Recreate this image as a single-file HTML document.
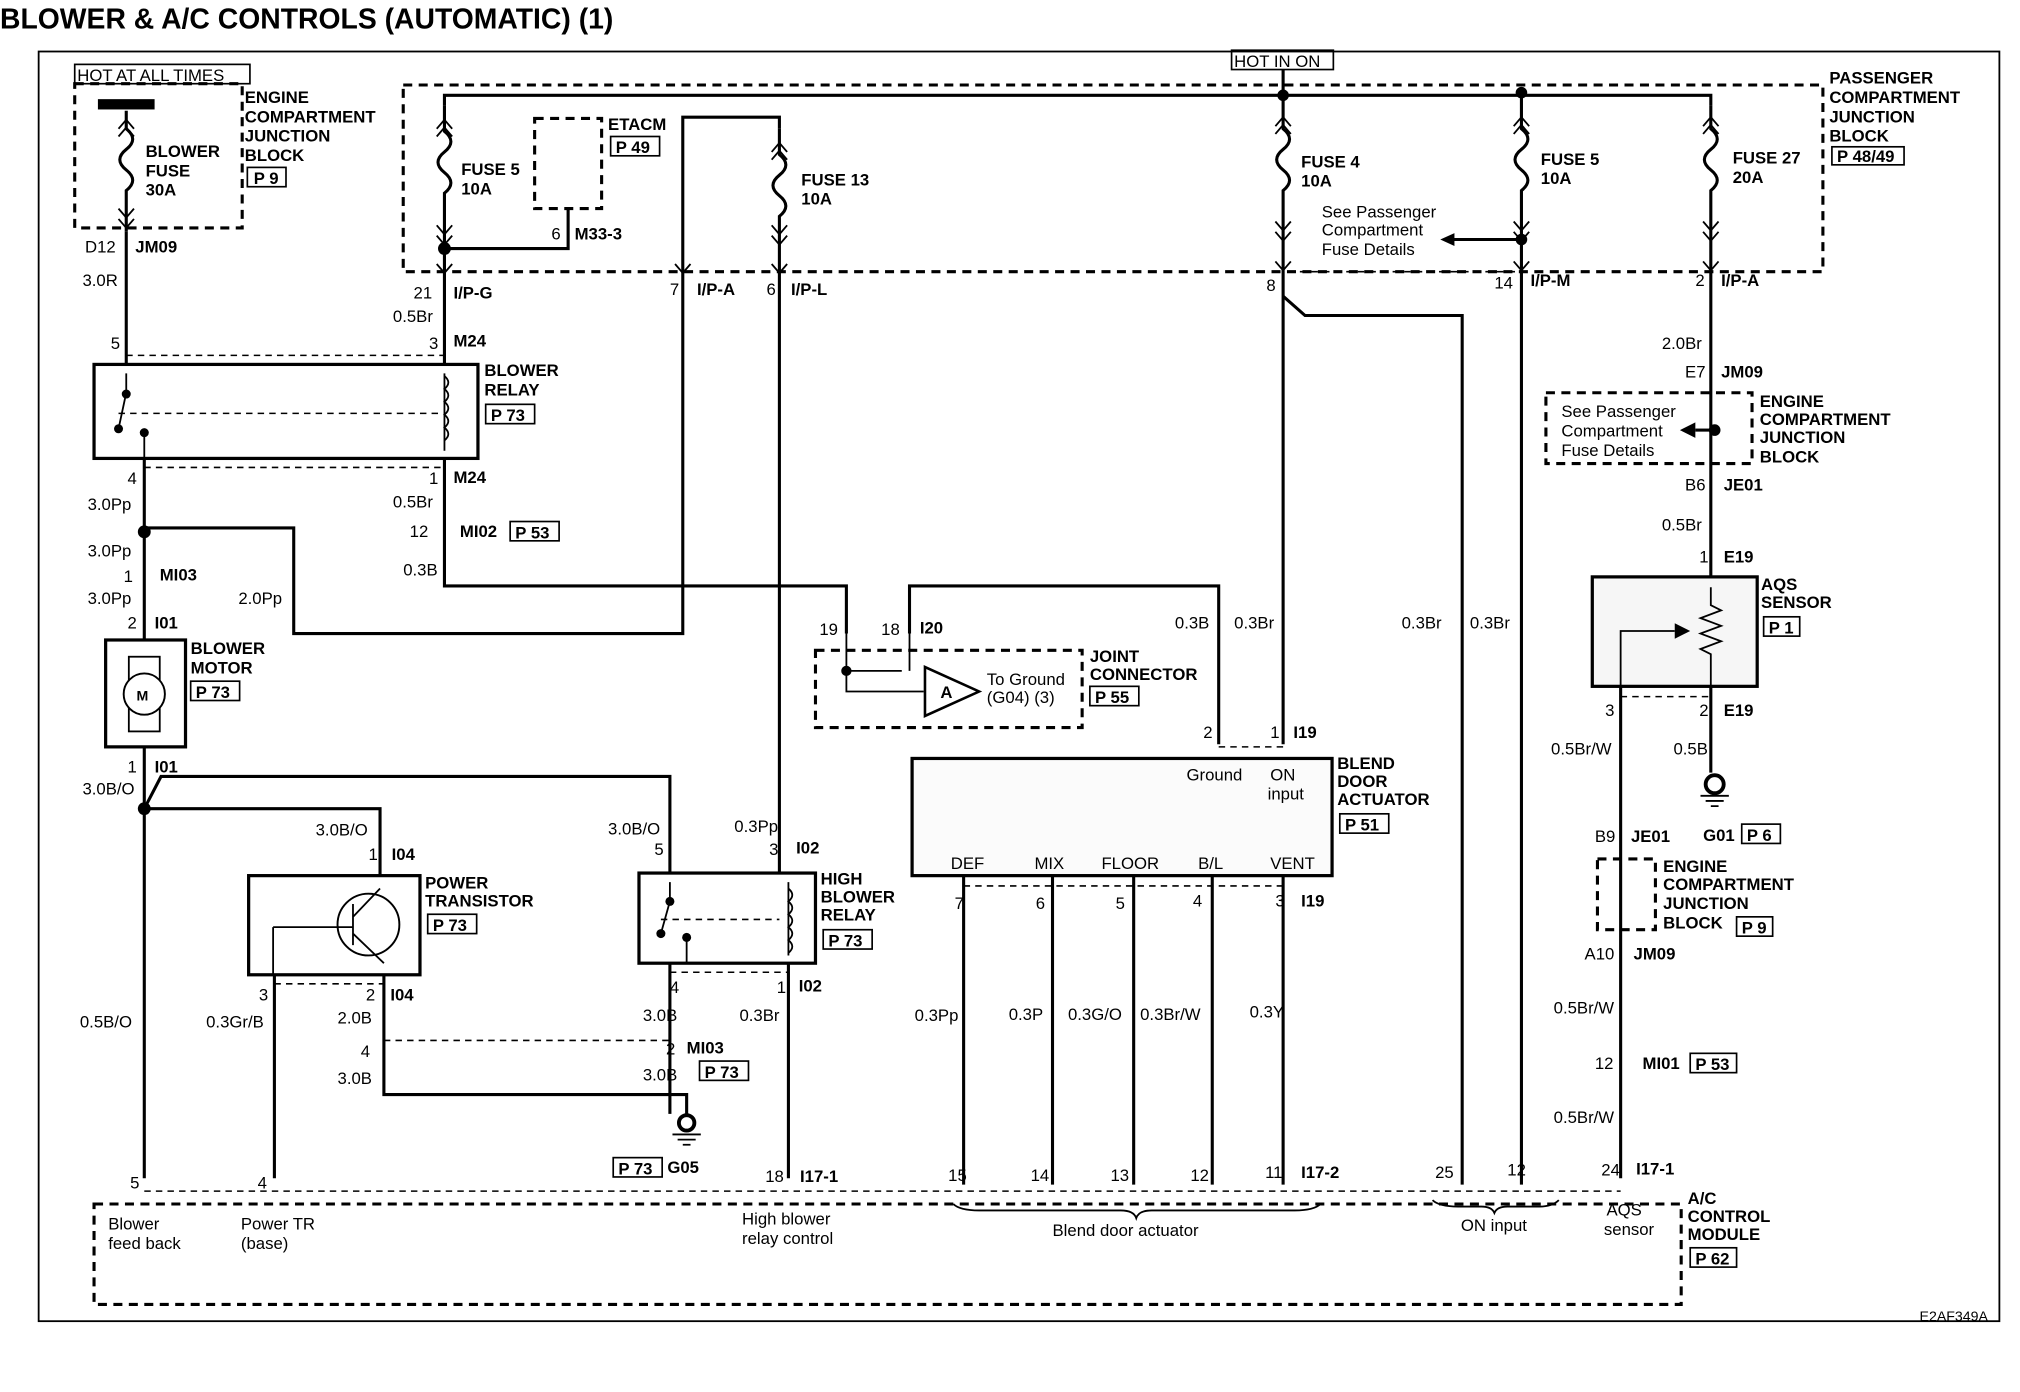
<!DOCTYPE html>
<html><head><meta charset="utf-8"><style>
html,body{margin:0;padding:0;background:#fff}
svg{display:block}
text{font-family:"Liberation Sans",Arial,sans-serif;font-size:13px;fill:#000}
.b{font-weight:bold}
.w{fill:none;stroke:#000;stroke-width:2.4}
.t{fill:none;stroke:#000;stroke-width:1.4}
.d{fill:none;stroke:#000;stroke-width:2.4;stroke-dasharray:7 5}
.dt{fill:none;stroke:#000;stroke-width:1.2;stroke-dasharray:5 4}
.bx{fill:none;stroke:#000;stroke-width:1.3}
</style></head><body>
<svg width="2020" height="1392" viewBox="0 0 1568 1081" preserveAspectRatio="none" xmlns="http://www.w3.org/2000/svg">
<text x="0" y="22" class="b" style="font-size:22px">BLOWER &amp; A/C CONTROLS (AUTOMATIC) (1)</text>
<rect x="30" y="40" width="1522" height="986" class="t"/>
<text x="1490" y="1026" style="font-size:11px">E2AF349A</text>

<rect x="58" y="50" width="136" height="15" class="bx"/><text x="60" y="63">HOT AT ALL TIMES</text>
<rect x="956" y="39" width="79" height="15" class="bx"/><text x="958" y="52">HOT IN ON</text>

<path d="M58 65 H188 V177 H58 Z" class="d"/>
<rect x="76" y="77" width="44" height="8" fill="#000"/>
<text x="190" y="80" class="b">ENGINE</text><text x="190" y="95" class="b">COMPARTMENT</text><text x="190" y="110" class="b">JUNCTION</text><text x="190" y="125" class="b">BLOCK</text>
<rect x="192" y="130" width="30" height="15" class="bx"/><text x="197" y="143" class="b">P 9</text>
<text x="113" y="122" class="b">BLOWER</text><text x="113" y="137" class="b">FUSE</text><text x="113" y="152" class="b">30A</text>

<path d="M313 66 H1415 V211 H313 Z" class="d"/>
<text x="1420" y="65" class="b">PASSENGER</text><text x="1420" y="80" class="b">COMPARTMENT</text><text x="1420" y="95" class="b">JUNCTION</text><text x="1420" y="110" class="b">BLOCK</text>
<rect x="1422" y="114" width="56" height="14" class="bx"/><text x="1426" y="126" class="b">P 48/49</text>

<path d="M345 82 V74 H1328 V82 M996 54 V74" class="w"/>
<circle cx="996" cy="74" r="4.5"/><circle cx="1181" cy="72" r="4.5"/>
<path d="M605 100 V91 H530 V492 H228 V410 H112" class="w"/>
<path d="M415 92 H467 V162 H415 Z" class="d"/>
<text x="472" y="101" class="b">ETACM</text><rect x="474" y="106" width="38" height="15" class="bx"/><text x="478" y="119" class="b">P 49</text>
<path d="M441 162 V193 H345" class="w"/><circle cx="345" cy="193" r="5"/>
<text x="428" y="186">6</text><text x="446" y="186" class="b">M33-3</text>

<g class="w">
<path d="M98 86 V100 q10 8 0 16 q-10 8 0 16 q10 8 0 16 V180"/>
<path d="M345 82 V102 q10 8 0 16 q-10 8 0 16 q10 8 0 16 V283"/>
<path d="M605 100 V120 q10 8 0 16 q-10 8 0 16 q10 8 0 16 V678"/>
<path d="M996 74 V100 q10 8 0 16 q-10 8 0 16 q10 8 0 16 V578"/>
<path d="M1181 72 V100 q10 8 0 16 q-10 8 0 16 q10 8 0 16 V920"/>
<path d="M1328 82 V100 q10 8 0 16 q-10 8 0 16 q10 8 0 16 V448"/>
</g>
<g class="t">
<path d="M92 100 l6 -7 l6 7 M92 106 l6 -7 l6 7 M92 162 l6 7 l6 -7 M92 170 l6 7 l6 -7"/>
<path d="M339 100 l6 -7 l6 7 M339 106 l6 -7 l6 7 M339 175 l6 7 l6 -7 M339 183 l6 7 l6 -7 M339 205 l6 7 l6 -7"/>
<path d="M599 118 l6 -7 l6 7 M599 124 l6 -7 l6 7 M599 175 l6 7 l6 -7 M599 183 l6 7 l6 -7 M599 205 l6 7 l6 -7 M524 205 l6 7 l6 -7"/>
<path d="M990 98 l6 -7 l6 7 M990 104 l6 -7 l6 7 M990 172 l6 7 l6 -7 M990 180 l6 7 l6 -7 M990 203 l6 7 l6 -7"/>
<path d="M1175 98 l6 -7 l6 7 M1175 104 l6 -7 l6 7 M1175 172 l6 7 l6 -7 M1175 180 l6 7 l6 -7 M1175 203 l6 7 l6 -7"/>
<path d="M1322 98 l6 -7 l6 7 M1322 104 l6 -7 l6 7 M1322 172 l6 7 l6 -7 M1322 180 l6 7 l6 -7 M1322 203 l6 7 l6 -7"/>
</g>
<text x="358" y="136" class="b">FUSE 5</text><text x="358" y="151" class="b">10A</text>
<text x="622" y="144" class="b">FUSE 13</text><text x="622" y="159" class="b">10A</text>
<text x="1010" y="130" class="b">FUSE 4</text><text x="1010" y="145" class="b">10A</text>
<text x="1196" y="128" class="b">FUSE 5</text><text x="1196" y="143" class="b">10A</text>
<text x="1345" y="127" class="b">FUSE 27</text><text x="1345" y="142" class="b">20A</text>
<text x="1026" y="169">See Passenger</text><text x="1026" y="183">Compartment</text><text x="1026" y="198">Fuse Details</text>
<path d="M1181 186 H1128" class="w"/><path d="M1118 186 l11 -5 v10 z"/><circle cx="1181" cy="186" r="4.5"/>

<text x="66" y="196">D12</text><text x="105" y="196" class="b">JM09</text><text x="64" y="222">3.0R</text>
<text x="321" y="232">21</text><text x="352" y="232" class="b">I/P-G</text><text x="305" y="250">0.5Br</text>
<text x="520" y="229">7</text><text x="541" y="229" class="b">I/P-A</text>
<text x="595" y="229">6</text><text x="614" y="229" class="b">I/P-L</text>
<text x="983" y="226">8</text><text x="1160" y="224">14</text><text x="1188" y="222" class="b">I/P-M</text>
<text x="1316" y="222">2</text><text x="1336" y="222" class="b">I/P-A</text>
<path d="M1000 211 H1181" class="dt"/>

<text x="86" y="271">5</text><text x="333" y="271">3</text><text x="352" y="269" class="b">M24</text>
<path d="M98 180 V283" class="w"/>
<path d="M98 276 H345" class="dt"/>
<rect x="73" y="283" width="298" height="73" fill="none" stroke="#000" stroke-width="2.5"/>
<path d="M98 290 V305 L92 333 M112 333 V356 M345 290 V350" class="t"/>
<path d="M345 292 q6 5 0 10 q6 5 0 10 q6 5 0 10 q6 5 0 10 q6 5 0 10" class="t"/>
<circle cx="98" cy="306" r="3.5"/><circle cx="92" cy="333" r="3.5"/><circle cx="112" cy="336" r="3.5"/>
<path d="M92 321 H340" class="dt"/>
<text x="376" y="292" class="b">BLOWER</text><text x="376" y="307" class="b">RELAY</text>
<rect x="377" y="314" width="38" height="15" class="bx"/><text x="381" y="327" class="b">P 73</text>
<path d="M112 363 H345" class="dt"/>
<text x="99" y="376">4</text><text x="333" y="376">1</text><text x="352" y="375" class="b">M24</text>
<text x="68" y="396">3.0Pp</text><text x="305" y="394">0.5Br</text>
<text x="318" y="417">12</text><text x="357" y="417" class="b">MI02</text>
<rect x="396" y="405" width="38" height="15" class="bx"/><text x="400" y="418" class="b">P 53</text>
<text x="313" y="447">0.3B</text>

<path d="M112 356 V497 M112 580 V915" class="w"/>
<circle cx="112" cy="413" r="5"/><circle cx="112" cy="628" r="5"/>
<text x="68" y="432">3.0Pp</text><text x="96" y="452">1</text><text x="124" y="451" class="b">MI03</text>
<text x="68" y="469">3.0Pp</text><text x="185" y="469">2.0Pp</text>
<text x="99" y="488">2</text><text x="120" y="488" class="b">I01</text>
<rect x="82" y="497" width="62" height="83" fill="none" stroke="#000" stroke-width="2.5"/>
<rect x="100" y="510" width="24" height="58" class="t"/><circle cx="112" cy="539" r="16" fill="#fff" stroke="#000" stroke-width="1.5"/>
<text x="106" y="544" class="b" style="font-size:11px">M</text>
<text x="148" y="508" class="b">BLOWER</text><text x="148" y="523" class="b">MOTOR</text>
<rect x="148" y="529" width="38" height="15" class="bx"/><text x="152" y="542" class="b">P 73</text>
<text x="99" y="600">1</text><text x="120" y="600" class="b">I01</text><text x="64" y="617">3.0B/O</text>
<path d="M112 628 L125 603 H520 V678 M112 628 H295 V680" class="w"/>

<path d="M345 356 V455 H657 V492" class="w"/>
<path d="M706 492 V455 H946 V578" class="w"/>
<text x="636" y="493">19</text><text x="684" y="493">18</text><text x="714" y="492" class="b">I20</text>
<text x="912" y="488">0.3B</text><text x="958" y="488">0.3Br</text>

<path d="M633 505 H840 V565 H633 Z" class="d"/>
<path d="M657 492 V521 H700 M706 492 V521 M657 521 V537 H717" class="t"/>
<circle cx="657" cy="521" r="4"/>
<path d="M718 518 V556 L760 537 Z" fill="#fff" stroke="#000" stroke-width="2"/><text x="730" y="542" class="b">A</text>
<text x="766" y="532">To Ground</text><text x="766" y="546">(G04) (3)</text>
<text x="846" y="514" class="b">JOINT</text><text x="846" y="528" class="b">CONNECTOR</text>
<rect x="846" y="533" width="38" height="15" class="bx"/><text x="850" y="546" class="b">P 55</text>

<text x="245" y="649">3.0B/O</text><text x="286" y="668">1</text><text x="304" y="668" class="b">I04</text>
<rect x="193" y="680" width="133" height="77" fill="none" stroke="#000" stroke-width="2.5"/>
<circle cx="286" cy="718" r="24" fill="none" stroke="#000" stroke-width="1.5"/>
<path d="M274 702 V734 M212 720 H274 M274 712 L295 690 M274 725 L298 748 M212 720 V757" class="t"/>
<text x="330" y="690" class="b">POWER</text><text x="330" y="704" class="b">TRANSISTOR</text>
<rect x="332" y="710" width="38" height="15" class="bx"/><text x="336" y="723" class="b">P 73</text>
<path d="M213 764 H298" class="dt"/>
<text x="201" y="777">3</text><text x="284" y="777">2</text><text x="303" y="777" class="b">I04</text>
<text x="62" y="798">0.5B/O</text><text x="160" y="798">0.3Gr/B</text><text x="262" y="795">2.0B</text>
<path d="M213 757 V915 M298 757 V850 H533 V865" class="w"/>
<path d="M298 808 H520" class="dt"/>
<text x="280" y="821">4</text><text x="262" y="842">3.0B</text>
<circle cx="533" cy="872" r="6" fill="none" stroke="#000" stroke-width="3"/>
<path d="M522 881 H544 M526 885 H540 M530 889 H536" class="t"/>
<rect x="476" y="899" width="38" height="15" class="bx"/><text x="480" y="912" class="b">P 73</text><text x="518" y="911" class="b">G05</text>

<text x="472" y="648">3.0B/O</text><text x="570" y="646">0.3Pp</text>
<text x="508" y="664">5</text><text x="597" y="664">3</text><text x="618" y="663" class="b">I02</text>
<rect x="496" y="678" width="137" height="70" fill="none" stroke="#000" stroke-width="2.5"/>
<path d="M520 685 V700 L513 725 M533 728 V748 M612 685 V742" class="t"/>
<path d="M612 690 q6 5 0 10 q6 5 0 10 q6 5 0 10 q6 5 0 10 q6 5 0 10" class="t"/>
<circle cx="520" cy="700" r="3.5"/><circle cx="513" cy="725" r="3.5"/><circle cx="533" cy="728" r="3.5"/>
<path d="M513 714 H605" class="dt"/>
<text x="637" y="687" class="b">HIGH</text><text x="637" y="701" class="b">BLOWER</text><text x="637" y="715" class="b">RELAY</text>
<rect x="639" y="722" width="38" height="15" class="bx"/><text x="643" y="735" class="b">P 73</text>
<path d="M520 755 H612" class="dt"/>
<text x="520" y="771">4</text><text x="603" y="771">1</text><text x="620" y="770" class="b">I02</text>
<text x="499" y="793">3.0B</text><text x="574" y="793">0.3Br</text>
<text x="517" y="819">2</text><text x="533" y="818" class="b">MI03</text>
<rect x="543" y="824" width="38" height="15" class="bx"/><text x="547" y="837" class="b">P 73</text>
<text x="499" y="839">3.0B</text>
<path d="M520 748 V865 M612 748 V915" class="w"/>

<text x="934" y="573">2</text><text x="986" y="573">1</text><text x="1004" y="573" class="b">I19</text>
<path d="M946 580 H996" class="dt"/>
<rect x="708" y="589" width="326" height="91" fill="#fbfbfb" stroke="#000" stroke-width="2.5"/>
<text x="921" y="606">Ground</text><text x="986" y="606">ON</text><text x="984" y="621">input</text>
<text x="1038" y="597" class="b">BLEND</text><text x="1038" y="611" class="b">DOOR</text><text x="1038" y="625" class="b">ACTUATOR</text>
<rect x="1040" y="632" width="38" height="15" class="bx"/><text x="1044" y="645" class="b">P 51</text>
<text x="738" y="675">DEF</text><text x="803" y="675">MIX</text><text x="855" y="675">FLOOR</text><text x="930" y="675">B/L</text><text x="986" y="675">VENT</text>
<path d="M748 688 H996" class="dt"/>
<path d="M748 680 V920 M817 680 V920 M880 680 V920 M941 680 V920 M996 680 V920" class="w"/>
<text x="741" y="706">7</text><text x="804" y="706">6</text><text x="866" y="706">5</text><text x="926" y="704">4</text><text x="990" y="704">3</text><text x="1010" y="704" class="b">I19</text>
<text x="710" y="793">0.3Pp</text><text x="783" y="792">0.3P</text><text x="829" y="792">0.3G/O</text><text x="885" y="792">0.3Br/W</text><text x="970" y="790">0.3Y</text>

<path d="M996 230 L1013 245 H1135 V920" class="w"/>
<text x="1088" y="488">0.3Br</text><text x="1141" y="488">0.3Br</text>

<text x="1290" y="271">2.0Br</text><text x="1308" y="293">E7</text><text x="1336" y="293" class="b">JM09</text>
<path d="M1200 305 H1360 V360 H1200 Z" class="d"/>
<text x="1212" y="324">See Passenger</text><text x="1212" y="339">Compartment</text><text x="1212" y="354">Fuse Details</text>
<path d="M1328 334 H1316" class="w"/><path d="M1304 334 l12 -6 v12 z"/><circle cx="1331" cy="334" r="4.5"/>
<text x="1366" y="316" class="b">ENGINE</text><text x="1366" y="330" class="b">COMPARTMENT</text><text x="1366" y="344" class="b">JUNCTION</text><text x="1366" y="359" class="b">BLOCK</text>
<text x="1308" y="381">B6</text><text x="1338" y="381" class="b">JE01</text>
<text x="1290" y="412">0.5Br</text><text x="1319" y="437">1</text><text x="1338" y="437" class="b">E19</text>
<rect x="1236" y="448" width="128" height="85" fill="#f6f6f6" stroke="#000" stroke-width="2.5"/>
<path d="M1328 456 V470 l8 4 l-16 6 l16 6 l-16 6 l16 6 l-16 6 l8 4 V540 M1258 540 V490 H1300" class="t"/>
<path d="M1312 490 l-12 -6 v12 z"/>
<text x="1367" y="458" class="b">AQS</text><text x="1367" y="472" class="b">SENSOR</text>
<rect x="1369" y="479" width="28" height="15" class="bx"/><text x="1373" y="492" class="b">P 1</text>
<path d="M1258 541 H1328" class="dt"/>
<text x="1246" y="556">3</text><text x="1319" y="556">2</text><text x="1338" y="556" class="b">E19</text>
<text x="1204" y="586">0.5Br/W</text><text x="1299" y="586">0.5B</text>
<path d="M1258 533 V915 M1328 533 V600" class="w"/>
<circle cx="1331" cy="609" r="7" fill="none" stroke="#000" stroke-width="3"/>
<path d="M1320 618 H1342 M1324 622 H1338 M1328 626 H1334" class="t"/>
<text x="1322" y="653" class="b">G01</text><rect x="1352" y="640" width="30" height="15" class="bx"/><text x="1356" y="653" class="b">P 6</text>
<text x="1238" y="654">B9</text><text x="1266" y="654" class="b">JE01</text>
<path d="M1240 667 H1285 V722 H1240 Z" class="d"/>
<text x="1291" y="677" class="b">ENGINE</text><text x="1291" y="691" class="b">COMPARTMENT</text><text x="1291" y="706" class="b">JUNCTION</text><text x="1291" y="721" class="b">BLOCK</text>
<rect x="1348" y="712" width="28" height="15" class="bx"/><text x="1352" y="725" class="b">P 9</text>
<text x="1230" y="745">A10</text><text x="1268" y="745" class="b">JM09</text>
<text x="1206" y="787">0.5Br/W</text><text x="1238" y="830">12</text><text x="1275" y="830" class="b">MI01</text>
<rect x="1312" y="818" width="36" height="15" class="bx"/><text x="1316" y="831" class="b">P 53</text>
<text x="1206" y="872">0.5Br/W</text>

<path d="M73 935 H1305 V1013 H73 Z" class="d"/>
<path d="M112 925 H1258" class="dt"/>
<text x="101" y="923">5</text><text x="200" y="923">4</text><text x="594" y="918">18</text><text x="621" y="918" class="b">I17-1</text>
<text x="736" y="917">15</text><text x="800" y="917">14</text><text x="862" y="917">13</text><text x="924" y="917">12</text><text x="982" y="915">11</text><text x="1010" y="915" class="b">I17-2</text>
<text x="1114" y="915">25</text><text x="1170" y="913">12</text><text x="1243" y="913">24</text><text x="1270" y="912" class="b">I17-1</text>
<text x="84" y="955">Blower</text><text x="84" y="970">feed back</text>
<text x="187" y="955">Power TR</text><text x="187" y="970">(base)</text>
<text x="576" y="951">High blower</text><text x="576" y="966">relay control</text>
<path d="M740 935 q5 5 20 5 H870 q10 0 12 6 q2 -6 12 -6 H1005 q15 0 20 -5" class="t"/>
<text x="817" y="960">Blend door actuator</text>
<path d="M1112 932 q5 5 20 5 H1150 q8 0 10 5 q2 -5 10 -5 H1195 q10 0 15 -5" class="t"/>
<text x="1134" y="956">ON input</text>
<text x="1247" y="944">AQS</text><text x="1245" y="959">sensor</text>
<text x="1310" y="935" class="b">A/C</text><text x="1310" y="949" class="b">CONTROL</text><text x="1310" y="963" class="b">MODULE</text>
<rect x="1312" y="969" width="36" height="15" class="bx"/><text x="1316" y="982" class="b">P 62</text>
</svg>
</body></html>
